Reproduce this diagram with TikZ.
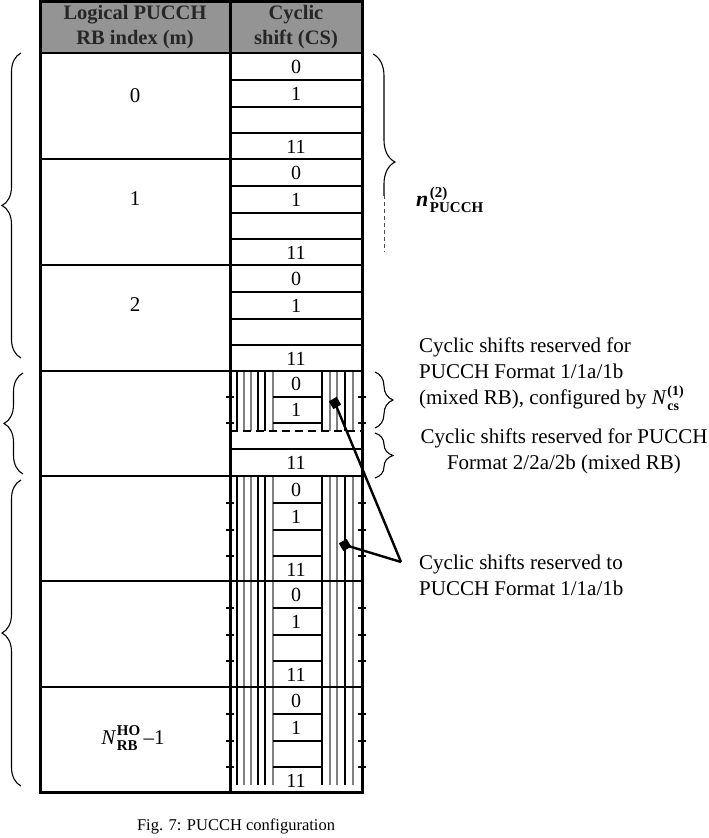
\documentclass[tikz,border=0pt]{standalone}
\usepackage{fontspec}
\setmainfont{Liberation Serif}
\usetikzlibrary{decorations.pathreplacing}
\newcommand{\SupSub}[4][14]{{#2}\kern1.5pt\raisebox{1.5pt}{$\vcenter{\hbox{\fontsize{#1}{#1}\selectfont\bfseries\upshape\vbox{\hbox{#3}\kern0.5pt\hbox{#4}}}}$}}
\begin{document}
\begin{tikzpicture}[x=1pt,y=-1pt,
  tbl/.style={line width=3pt},
  rowline/.style={line width=2.6pt},
  subline/.style={line width=2pt},
  hk/.style={line width=1.2pt,black},
  hg/.style={line width=1.5pt,black!50},
  cstext/.style={font=\fontsize{20}{22}\selectfont, inner sep=0pt},
  mtext/.style={font=\fontsize{21}{23}\selectfont, inner sep=0pt},
  head/.style={font=\fontsize{20.5}{25}\selectfont\bfseries, text=black!85, align=center, inner sep=0pt},
  note/.style={font=\fontsize{21}{26}\selectfont, inner sep=0pt},
  brc/.style={decorate, decoration={brace, amplitude=#1}, line width=1.1pt},
  marker/.style={draw=none, fill=black, minimum size=9pt, inner sep=0pt, rotate=30},
  conn/.style={line width=2.4pt}
]
\useasboundingbox (0,0) rectangle (709,838);
% header
\fill[black!42] (40,1) rectangle (362,53);
\node[head] (h1) at (135,27) {Logical PUCCH\\RB index (m)};
\node[head] (h2) at (296,27) {Cyclic\\shift (CS)};
% hatching (mixed RB and bottom RBs)
\foreach \ya/\yb in {371/431, 476/785}{
  \foreach \x in {237,258,265,322,345}{\draw[hk] (\x,\ya) -- (\x,\yb);}
  \foreach \x in {244,251,273,330,337,353}{\draw[hg] (\x,\ya) -- (\x,\yb);}
}
% white-row sub lines (top three RBs)
\foreach \T/\i in {53/0,159/1,265/2}{
  \foreach \d in {27,54,80}{\draw[subline] (230,\T+\d) -- (362,\T+\d);}
  \node[cstext] (c\i-0) at (296,\T+14) {0};
  \node[cstext] (c\i-1) at (296,\T+41) {1};
  \node[cstext] (c\i-11) at (296,\T+94) {11};
}
% hatched rows sub lines
\foreach \T/\i in {476/3,581/4,687/5}{
  \foreach \d in {27,54,80}{
    \draw[line width=2.4pt] (273,\T+\d) -- (322,\T+\d);
    \draw[line width=2pt] (226,\T+\d) -- (234,\T+\d);
    \draw[line width=2pt] (358,\T+\d) -- (366,\T+\d);
  }
  \node[cstext] (c\i-0) at (296,\T+14) {0};
  \node[cstext] (c\i-1) at (296,\T+41) {1};
  \node[cstext] (c\i-11) at (296,\T+94) {11};
}
% mixed RB
\draw[line width=2.4pt] (273,397) -- (322,397);
\draw[line width=2.4pt] (273,423) -- (322,423);
\foreach \y in {397,423}{\draw[line width=2pt] (226,\y) -- (234,\y);\draw[line width=2pt] (358,\y) -- (366,\y);}
\draw[line width=2pt, dash pattern=on 8pt off 5pt] (230,431) -- (362,431);
\draw[subline] (230,449) -- (362,449);
\node[cstext] (cm-0) at (296,384) {0};
\node[cstext] (cm-1) at (296,410) {1};
\node[cstext] (cm-11) at (296,463) {11};
% row boundaries
\foreach \y in {53,159,265,371,476,581,687}{\draw[rowline] (40,\y) -- (362,\y);}
% outer frame
\draw[tbl] (40,1) rectangle (362,792);
\draw[tbl] (230,1) -- (230,792);
% left labels
\node[mtext] (m0) at (135,96) {0};
\node[mtext] (m1) at (135,199) {1};
\node[mtext] (m2) at (135,305) {2};
\node[mtext] (mN) at (133,738) {\SupSub[15]{\itshape N}{HO}{RB}\,--1};
% left braces
\draw[brc=19] (21,358) -- (21,53);
\draw[brc=19] (23,474) -- (23,373);
\draw[brc=19] (21,786) -- (21,480);
% right brace n_PUCCH
\begin{scope}
\clip (360,40) rectangle (420,195);
\draw[brc=22] (373,54) -- (373,270);
\end{scope}
\draw[line width=0.6pt, black!70, dash pattern=on 4pt off 3pt] (384,195) -- (384,252);
\node[font=\fontsize{22}{24}\selectfont, inner sep=0pt, anchor=west] (npucch) at (416,200) {\SupSub[15]{\bfseries\itshape n}{(2)}{PUCCH}};
% small right braces
\draw[brc=18] (375,372) -- (375,428);
\draw[brc=18] (375,433) -- (375,478);
% notes
\node[note, align=left, anchor=west] (n1) at (419,374) {Cyclic shifts reserved for\\PUCCH Format 1/1a/1b\\(mixed RB), configured by \SupSub[14]{\itshape N}{(1)}{cs}};
\node[note, align=center] (n2) at (564,451) {Cyclic shifts reserved for PUCCH\\Format 2/2a/2b (mixed RB)};
\node[note, align=left, anchor=west] (n3) at (419,575) {Cyclic shifts reserved to\\PUCCH Format 1/1a/1b};
% connectors
\node[marker] (mk1) at (335,403) {};
\node[marker] (mk2) at (345,545) {};
\coordinate (apex) at (401,562);
\draw[conn] (mk1.center) -- (apex);
\draw[conn] (mk2.center) -- (apex);
% caption
\node[font=\fontsize{16.5}{20}\selectfont, inner sep=0pt] (cap) at (236,826) {Fig. 7: PUCCH configuration};
\end{tikzpicture}
\end{document}
